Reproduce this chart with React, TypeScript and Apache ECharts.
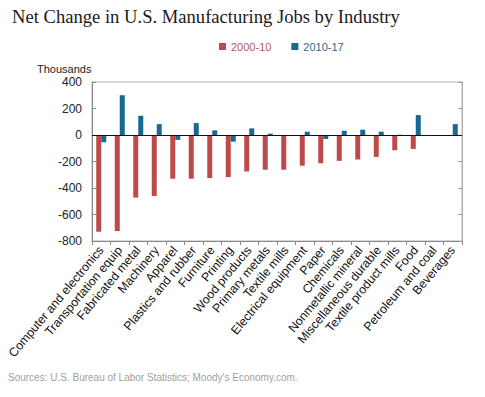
import React, { useEffect, useRef } from "react";
import * as echarts from "echarts";

const categories = [
  "Computer and electronics",
  "Transportation equip",
  "Fabricated metal",
  "Machinery",
  "Apparel",
  "Plastics and rubber",
  "Furniture",
  "Printing",
  "Wood products",
  "Primary metals",
  "Textile mills",
  "Electrical equipment",
  "Paper",
  "Chemicals",
  "Nonmetallic mineral",
  "Miscellaneous durable",
  "Textile product mills",
  "Food",
  "Petroleum and coal",
  "Beverages",
];

const values2000_10 = [-730, -725, -472, -460, -330, -330, -325, -318, -275, -262, -262, -232, -213, -195, -185, -165, -115, -105, -5, -3];
const values2010_17 = [-55, 300, 145, 82, -37, 90, 35, -50, 50, 10, -3, 25, -30, 32, 40, 25, 2, 150, -3, 82];

const yTicks = { min: -800, max: 400, interval: 200 };

const RED = "#bd4a4b";
const BLUE = "#1a6792";

export default function App() {
  const ref = useRef<HTMLDivElement>(null);
  useEffect(() => {
    if (!ref.current) return;
    const chart = echarts.init(ref.current, undefined, { renderer: "svg" });
    chart.setOption({
      animation: false,
      backgroundColor: "#ffffff",
      title: {
        text: "Net Change in U.S. Manufacturing Jobs by Industry",
        left: 7,
        top: 2,
        textStyle: {
          fontFamily: "Liberation Serif",
          fontSize: 18.6,
          fontWeight: "normal",
          color: "#1a1a1a",
        },
      },
      legend: {
        left: 214,
        top: 36,
        itemWidth: 7,
        itemHeight: 7,
        itemGap: 20,
        icon: "rect",
        textStyle: { fontFamily: "Liberation Sans", fontSize: 11 },
        data: [
          { name: "2000-10", textStyle: { color: "#b55a5a" } },
          { name: "2010-17", textStyle: { color: "#2a6a8c" } },
        ],
      },
      graphic: [
        {
          type: "text",
          left: 37,
          top: 63,
          style: { text: "Thousands", fontFamily: "Liberation Sans", fontSize: 11, fill: "#222" },
        },
        {
          type: "text",
          left: 8,
          top: 372,
          style: {
            text: "Sources: U.S. Bureau of Labor Statistics; Moody's Economy.com.",
            fontFamily: "Liberation Sans",
            fontSize: 10,
            fill: "#a0a0a0",
          },
        },
      ],
      grid: {
        left: 92,
        right: 23,
        top: 82,
        bottom: 156,
        show: true,
        borderColor: "#b0b0b0",
        borderWidth: 1,
      },
      xAxis: {
        type: "category",
        data: categories,
        axisLine: { onZero: false, lineStyle: { color: "#888" } },
        axisTick: { show: true, length: 4, interval: 0, lineStyle: { color: "#888" } },
        axisLabel: {
          interval: 0,
          rotate: 50,
          fontSize: 12.3,
          fontFamily: "Liberation Sans",
          color: "#111",
          margin: 7,
        },
        splitLine: { show: false },
      },
      yAxis: [
        {
          type: "value",
          min: yTicks.min,
          max: yTicks.max,
          interval: yTicks.interval,
          axisLine: { show: true, lineStyle: { color: "#888" } },
          axisTick: { show: true, inside: true, length: 4, lineStyle: { color: "#888" } },
          axisLabel: { fontSize: 12, fontFamily: "Liberation Sans", color: "#222", margin: 10 },
          splitLine: { show: false },
        },
        {
          type: "value",
          position: "right",
          min: yTicks.min,
          max: yTicks.max,
          interval: yTicks.interval,
          axisLine: { show: true, lineStyle: { color: "#b0b0b0" } },
          axisTick: { show: true, inside: true, length: 4, lineStyle: { color: "#999" } },
          axisLabel: { show: false },
          splitLine: { show: false },
        },
      ],
      series: [
        {
          name: "2000-10",
          type: "bar",
          data: values2000_10,
          barWidth: 5,
          barGap: "0%",
          itemStyle: { color: RED },
          markLine: {
            silent: true,
            symbol: "none",
            label: { show: false },
            lineStyle: { color: "#111", width: 1.2, type: "solid" },
            data: [{ yAxis: 0 }],
          },
        },
        {
          name: "2010-17",
          type: "bar",
          data: values2010_17,
          barWidth: 5,
          barGap: "0%",
          itemStyle: { color: BLUE },
        },
      ],
    });
    return () => chart.dispose();
  }, []);
  return <div ref={ref} style={{ width: 485, height: 397, position: "absolute", left: 0, top: 0 }} />;
}
